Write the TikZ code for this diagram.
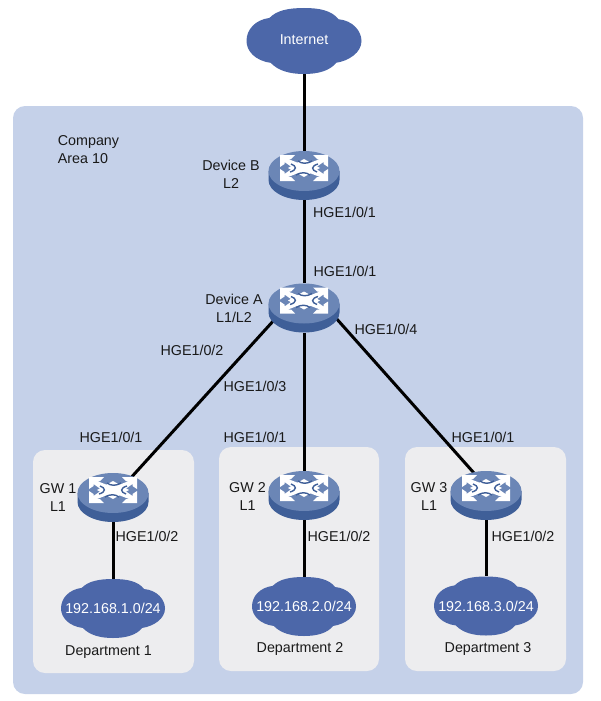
\documentclass[tikz,border=0pt]{standalone}
\usepackage{fontspec}
\setmainfont{Liberation Sans}
\usetikzlibrary{positioning}
\usetikzlibrary{shapes.geometric}
\definecolor{areafill}{HTML}{C5D1E9}
\definecolor{deptfill}{HTML}{EDEDEF}
\definecolor{cloudfill}{HTML}{4C67A9}
\definecolor{routertop}{HTML}{6B86B6}
\definecolor{routerside}{HTML}{3F5F98}
\tikzset{
  lbl/.style={align=center, inner sep=0pt, font=\fontsize{14.3}{18}\selectfont, text=black!90},
  lanlbl/.style={lbl, text=white},
  panel/.style={rectangle, rounded corners=12pt, inner sep=0pt},
  cloudbox/.style={ellipse, inner sep=0pt},
  routerbox/.style={ellipse, minimum width=71pt, minimum height=49pt, inner sep=0pt},
  wire/.style={line width=3pt, black},
  cloudicon/.pic={
    \fill[cloudfill] (-60,-70) .. controls (-48,-92) and (-28,-100) .. (0,-100)
      .. controls (28,-100) and (48,-92) .. (60,-66)
      .. controls (85,-62) and (100,-30) .. (100,0)
      .. controls (100,35) and (78,60) .. (56,66)
      .. controls (45,90) and (25,100) .. (0,100)
      .. controls (-25,100) and (-45,90) .. (-58,66)
      .. controls (-85,60) and (-100,30) .. (-100,0)
      .. controls (-100,-35) and (-85,-64) .. (-60,-70) -- cycle;
  },
  routericon/.pic={
    \fill[routerside] (-35.5,-4.5) -- (-35.5,4.5) arc[start angle=180, end angle=0, x radius=35.5, y radius=20] -- (35.5,-4.5) -- cycle;
    \fill[routertop] (0,-4.5) ellipse[x radius=35.5, y radius=20];
    \begin{scope}[shift={(0,-7.5)}]
      \foreach \sx/\sy in {1/1,-1/1,1/-1,-1/-1} {
        \fill[white, shift={(\sx*24,\sy*13)}, xscale=\sx, yscale=\sy]
          (0,0) -- (-15,0) -- (-11,-4) -- (-8,-4) -- (-21,-9) -- (-24,-13) -- (-13,-13) -- (-4.5,-7) -- (-4.5,-9) -- (0,-12) -- cycle;
      }
      \fill[white] (-16,0) -- (0,-9) -- (16,0) -- (0,9) -- cycle;
      \draw[routerside, line width=1.4pt] (-13,-4) .. controls (-7,-2) and (-7,2) .. (-14,4);
      \draw[routerside, line width=1.4pt] (13,4) .. controls (7,2) and (7,-2) .. (14,-4);
      \draw[routerside, line width=1.4pt] (-6,-7) .. controls (-2,-4) and (3,-4) .. (8,-7);
      \draw[routerside, line width=1.4pt] (6,7) .. controls (2,4) and (-3,4) .. (-8,7);
    \end{scope}
  }
}
\begin{document}
\begin{tikzpicture}[x=1pt, y=-1pt, on grid]
    \useasboundingbox (0,0) rectangle (601,701);
    % panels
    \node[panel, fill=areafill, minimum width=570pt, minimum height=588pt] (area) at (298,400) {};
    \node[panel, fill=deptfill, minimum width=161pt, minimum height=223pt] (dept1) at (113.5,561.5) {};
    \node[panel, fill=deptfill, minimum width=160pt, minimum height=224pt] (dept2) at (299,559) {};
    \node[panel, fill=deptfill, minimum width=161pt, minimum height=224pt] (dept3) at (485.5,559) {};
    % core
    \node[cloudbox, minimum width=115pt, minimum height=66pt] (internet) at (304,41) {};
    \node[routerbox, below=134.5pt of internet] (devb) {};
    \node[routerbox, below=132.5pt of devb] (deva) {};
    \coordinate[left=19pt of deva] (deval);
    \coordinate[right=23pt of deva] (devar);
    % gateways
    \node[routerbox, below left=189.5pt and 191pt of deva] (gw1) {};
    \node[routerbox, below=187.5pt of deva] (gw2) {};
    \node[routerbox, below right=187.5pt and 182pt of deva] (gw3) {};
    \coordinate[right=8pt of gw3] (gw3r);
    \node[cloudbox, minimum width=104pt, minimum height=59pt, below=111pt of gw1] (lan1) {};
    \node[cloudbox, minimum width=104pt, minimum height=59pt, below=111pt of gw2] (lan2) {};
    \node[cloudbox, minimum width=104pt, minimum height=59pt, below=110.5pt of gw3] (lan3) {};
    % wires
    \draw[wire] (internet) -- (devb);
    \draw[wire] (devb) -- (deva);
    \draw[wire] (deval) -- (gw1);
    \draw[wire] (deva) -- (gw2);
    \draw[wire] (devar) -- (gw3r);
    \draw[wire] (gw1) -- (lan1);
    \draw[wire] (gw2) -- (lan2);
    \draw[wire] (gw3) -- (lan3);
    \pic[xscale=.575, yscale=.33] at (internet) {cloudicon};
    \pic[xscale=.52, yscale=.295] at (lan1) {cloudicon};
    \pic[xscale=.52, yscale=.295] at (lan2) {cloudicon};
    \pic[xscale=.52, yscale=.295] at (lan3) {cloudicon};
    \pic at (devb) {routericon};
    \pic at (deva) {routericon};
    \pic at (gw1) {routericon};
    \pic at (gw2) {routericon};
    \pic at (gw3) {routericon};
    % labels
    \node[lanlbl, above=1pt of internet] (internettxt) {Internet};
    \node[lanlbl] (lan1txt) at (lan1) {192.168.1.0/24};
    \node[lanlbl] (lan2txt) at (lan2) {192.168.2.0/24};
    \node[lanlbl] (lan3txt) at (lan3) {192.168.3.0/24};
    \node[lbl, align=left] (areatxt) at (88.5,150) {Company\\Area 10};
    \node[lbl, above left=1.5pt and 73pt of devb] (devbtxt) {Device B\\L2};
    \node[lbl, left=70pt of deva] (devatxt) {Device A\\L1/L2};
    \node[lbl, left=55pt of gw1] (gw1txt) {GW 1\\L1};
    \node[lbl, below left=1.5pt and 56.5pt of gw2] (gw2txt) {GW 2\\L1};
    \node[lbl, below left=1.5pt and 57pt of gw3] (gw3txt) {GW 3\\L1};
    \node[lbl, below right=36.5pt and 40.5pt of devb] (bportdown) {HGE1/0/1};
    \node[lbl, above right=37pt and 41pt of deva] (aportup) {HGE1/0/1};
    \node[lbl, below left=42pt and 112pt of deva] (aportl) {HGE1/0/2};
    \node[lbl, below left=78pt and 49pt of deva] (aportm) {HGE1/0/3};
    \node[lbl, below right=21pt and 82pt of deva] (aportr) {HGE1/0/4};
    \node[lbl, above left=60.5pt and 2pt of gw1] (gw1up) {HGE1/0/1};
    \node[lbl, above left=58.5pt and 49pt of gw2] (gw2up) {HGE1/0/1};
    \node[lbl, above left=58.5pt and 3pt of gw3] (gw3up) {HGE1/0/1};
    \node[lbl, below right=38.5pt and 34pt of gw1] (gw1down) {HGE1/0/2};
    \node[lbl, below right=40.5pt and 35pt of gw2] (gw2down) {HGE1/0/2};
    \node[lbl, below right=40.5pt and 37pt of gw3] (gw3down) {HGE1/0/2};
    \node[lbl, below left=43.5pt and 4.5pt of lan1] (dept1txt) {Department 1};
    \node[lbl, below left=42.5pt and 4pt of lan2] (dept2txt) {Department 2};
    \node[lbl, below right=43pt and 2pt of lan3] (dept3txt) {Department 3};
\end{tikzpicture}
\end{document}
